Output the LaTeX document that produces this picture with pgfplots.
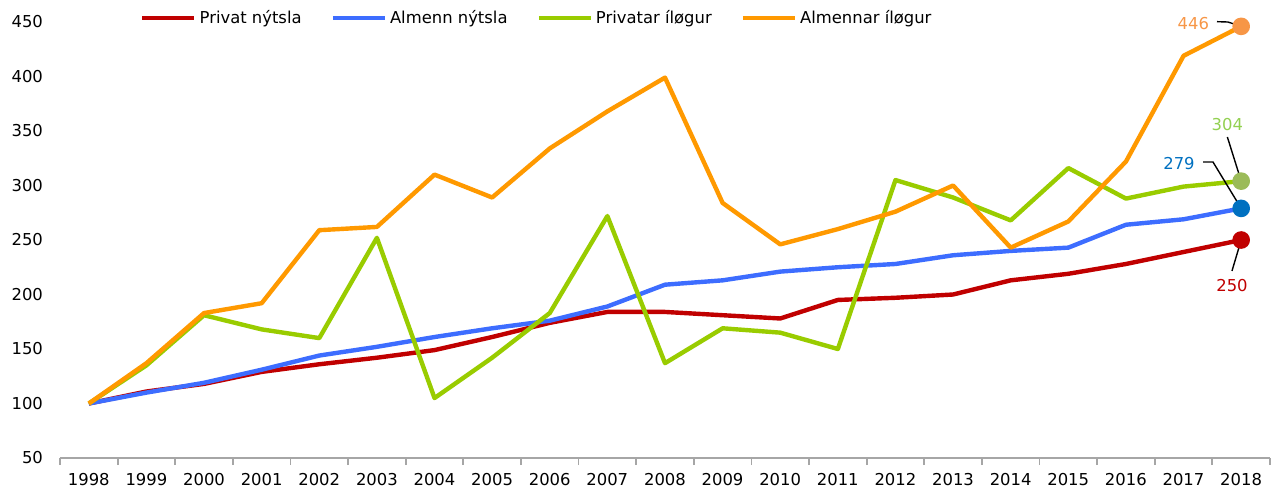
\documentclass[border=0pt]{standalone}
\usepackage{fontspec}
\setmainfont{DejaVu Sans}
\usepackage{pgfplots}
\pgfplotsset{compat=1.18}

\definecolor{cRed}{HTML}{C00000}
\definecolor{cBlue}{HTML}{3D6DFF}
\definecolor{cGreen}{HTML}{99CC00}
\definecolor{cOrange}{HTML}{FF9900}
\definecolor{mOrange}{HTML}{F79646}
\definecolor{mGreen}{HTML}{9BBB59}
\definecolor{mBlue}{HTML}{0070C0}
\definecolor{lGreen}{HTML}{92D050}
\definecolor{axgray}{HTML}{A6A6A6}

\begin{document}
\begin{tikzpicture}[font=\fontsize{8.2}{9.8}\selectfont]
\begin{axis}[
    scale only axis,
    width=605pt, height=218pt,
    xmin=1997.5, xmax=2018.5,
    ymin=50, ymax=450,
    xtick={1998,...,2018},
    minor xtick={1997.5,1998.5,...,2018.5},
    ytick={50,100,...,450},
    /pgf/number format/1000 sep={},
    /pgf/number format/assume math mode=true,
    axis x line*=bottom, axis y line*=left,
    axis line style={-},
    x axis line style={axgray, line width=0.9pt},
    y axis line style={draw=none},
    major tick length=0pt,
    minor tick length=3.5pt,
    tick align=outside,
    minor tick style={axgray, line width=0.9pt},
    ytick style={draw=none},
    yticklabel style={xshift=-5pt},
    xticklabel style={yshift=-4pt},
    clip=false,
    every axis plot/.append style={line width=2.2pt, line join=round, no markers},
    legend columns=-1,
    legend style={draw=none, fill=none, inner sep=0pt,
        at={(rel axis cs:0.066,1)}, anchor=west, yshift=2pt,
        nodes={inner sep=1.5pt},
        /tikz/every even column/.append style={column sep=13pt}},
    legend image code/.code={\draw[#1, line width=2.2pt] (0pt,0pt) -- (26pt,0pt);},
]
\addplot[cRed] coordinates {
(1998,100) (1999,111) (2000,118) (2001,129) (2002,136) (2003,142) (2004,149)
(2005,161) (2006,174) (2007,184) (2008,184) (2009,181) (2010,178) (2011,195)
(2012,197) (2013,200) (2014,213) (2015,219) (2016,228) (2017,239) (2018,250)};
\addlegendentry{Privat nýtsla}
\addplot[cBlue] coordinates {
(1998,100) (1999,110) (2000,119) (2001,131) (2002,144) (2003,152) (2004,161)
(2005,169) (2006,176) (2007,189) (2008,209) (2009,213) (2010,221) (2011,225)
(2012,228) (2013,236) (2014,240) (2015,243) (2016,264) (2017,269) (2018,279)};
\addlegendentry{Almenn nýtsla}
\addplot[cGreen] coordinates {
(1998,100) (1999,135) (2000,181) (2001,168) (2002,160) (2003,252) (2004,105)
(2005,142) (2006,183) (2007,272) (2008,137) (2009,169) (2010,165) (2011,150)
(2012,305) (2013,289) (2014,268) (2015,316) (2016,288) (2017,299) (2018,304)};
\addlegendentry{Privatar íløgur}
\addplot[cOrange] coordinates {
(1998,100) (1999,137) (2000,183) (2001,192) (2002,259) (2003,262) (2004,310)
(2005,289) (2006,334) (2007,368) (2008,399) (2009,284) (2010,246) (2011,260)
(2012,276) (2013,300) (2014,243) (2015,267) (2016,322) (2017,419) (2018,446)};
\addlegendentry{Almennar íløgur}

% end markers
\addplot[only marks, mark=*, mark size=3.3pt, mark options={draw=cRed, fill=cRed}, forget plot] coordinates {(2018,250)};
\addplot[only marks, mark=*, mark size=3.3pt, mark options={draw=mBlue, fill=mBlue}, forget plot] coordinates {(2018,279)};
\addplot[only marks, mark=*, mark size=3.3pt, mark options={draw=mGreen, fill=mGreen}, forget plot] coordinates {(2018,304)};
\addplot[only marks, mark=*, mark size=3.3pt, mark options={draw=mOrange, fill=mOrange}, forget plot] coordinates {(2018,446)};

% data labels with leader lines
\draw[black, line width=0.7pt] (axis cs:2017.58,450.3) -- (axis cs:2017.77,450) -- (axis cs:2018,446);
\node[mOrange] at (axis cs:2017.17,448.8) {446};
\draw[black, line width=0.7pt] (axis cs:2017.76,344.5) -- (axis cs:2018,304);
\node[lGreen] at (axis cs:2017.76,355.5) {304};
\draw[black, line width=0.7pt] (axis cs:2017.34,321.6) -- (axis cs:2017.51,321.6) -- (axis cs:2018,279);
\node[mBlue] at (axis cs:2016.92,320.6) {279};
\draw[black, line width=0.7pt] (axis cs:2017.84,221.6) -- (axis cs:2018,250);
\node[cRed] at (axis cs:2017.84,207.8) {250};

\coordinate (bl) at (rel axis cs:0,0);
\coordinate (tr) at (rel axis cs:1,1);
\end{axis}
\pgfresetboundingbox
\path ([xshift=-30pt,yshift=-15.5pt]bl) rectangle ([xshift=5pt,yshift=11pt]tr);
\end{tikzpicture}
\end{document}
